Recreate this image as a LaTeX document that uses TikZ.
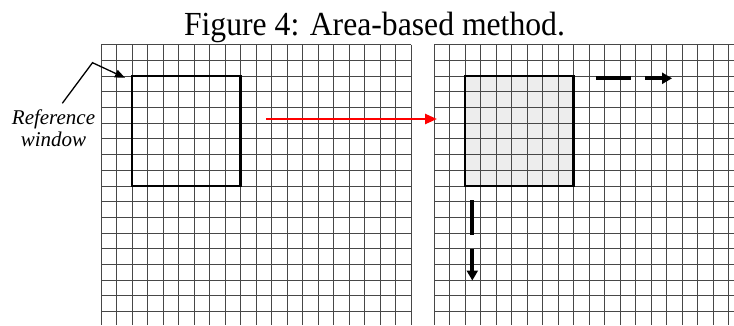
\documentclass[tikz,border=0pt]{standalone}
\usepackage{fontspec}
\setmainfont{Liberation Serif}
\usetikzlibrary{arrows.meta}
\tikzset{
  gridline/.style={draw=black!72, line width=1pt},
  winbox/.style={draw=black, line width=2.4pt, inner sep=0pt, minimum width=108.5pt, minimum height=109.9pt},
  movearrow/.style={draw=black, line width=4pt, dash pattern=on 35pt off 14pt, -{Triangle[length=10pt,width=11pt]}},
  matcharrow/.style={draw=red, line width=2.4pt, -{Triangle[length=12pt,width=10pt]}},
  pointer/.style={draw=black, line width=1.3pt, -{Triangle[length=10pt,width=8pt]}}
}
\begin{document}
\begin{tikzpicture}[x=1pt,y=-1pt]
\useasboundingbox (0,0) rectangle (734,325);
% caption
\node[anchor=base, inner sep=0pt, font=\fontsize{33.7}{36}\selectfont] (caption) at (374.5,35) {\scalebox{0.94}[1]{Figure 4: Area-based method.}};
% search window fill (right)
\fill[black!7] (465,76.1) rectangle (573.5,186);
% left grid
\foreach \k in {0,...,20} \draw[gridline] (101+15.5*\k,44.7) -- (101+15.5*\k,325);
\foreach \j in {0,...,17} \draw[gridline] (101,44.7+15.7*\j) -- (411,44.7+15.7*\j);
% right grid
\foreach \k in {0,...,19} \draw[gridline] (434+15.5*\k,44.7) -- (434+15.5*\k,325);
\foreach \j in {0,...,17} \draw[gridline] (434,44.7+15.7*\j) -- (734,44.7+15.7*\j);
% windows
\node[winbox] (refwin) at (186.25,131.05) {};
\node[winbox] (srchwin) at (519.25,131.05) {};
% label
\node[anchor=north, align=center, inner sep=0pt, font=\itshape\fontsize{21}{22}\selectfont] (reflabel) at (53.5,109.5) {Reference\\window};
\coordinate (pstart) at (62.3,103.3);
\coordinate (pbend) at (92.5,62.7);
\coordinate (ptip) at (125,77.8);
\draw[pointer] (pstart) -- (pbend) -- (ptip);
% red matching arrow
\coordinate (mstart) at (266,119);
\coordinate (mend) at (437,119);
\draw[matcharrow] (mstart) -- (mend);
% moving arrows
\coordinate (hstart) at (595.7,78.3);
\coordinate (hend) at (672,78.3);
\draw[movearrow] (hstart) -- (hend);
\coordinate (vstart) at (472.3,200);
\coordinate (vend) at (472.3,280.5);
\draw[movearrow] (vstart) -- (vend);
\end{tikzpicture}
\end{document}
